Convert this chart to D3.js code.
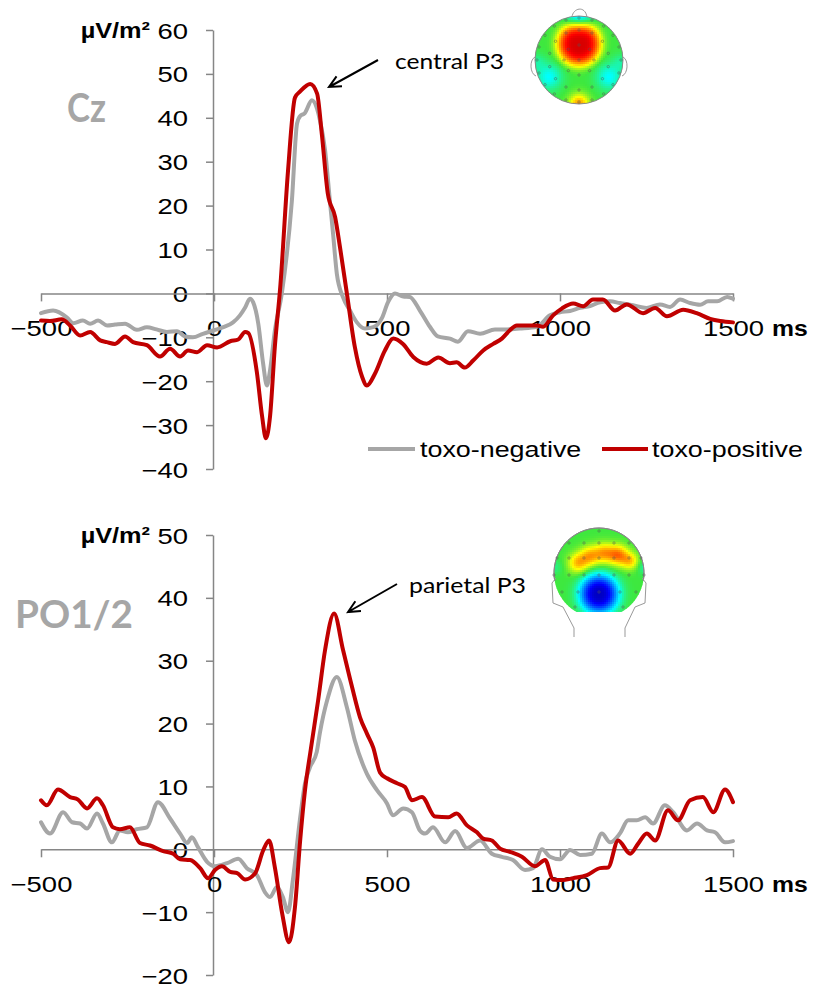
<!DOCTYPE html>
<html><head><meta charset="utf-8">
<script src="https://cdn.jsdelivr.net/npm/d3@7"></script>
<style>body{margin:0;background:#fff}svg{display:block}</style>
</head><body>
<svg id="c" width="813" height="987"></svg>
<script>
// ---------- data ----------
const xTicks = [-500, 0, 500, 1000, 1500];
const czTicks = [-40, -30, -20, -10, 0, 10, 20, 30, 40, 50, 60];
const poTicks = [-20, -10, 0, 10, 20, 30, 40, 50];
const seriesNames = ["toxo-negative", "toxo-positive"];
const seriesColors = ["#A6A6A6", "#C00000"];
const panelLabels = ["Cz", "PO1/2"];
const peakLabels = ["central P3", "parietal P3"];

// Cz, toxo-negative  [ms, µV/m²]
const czNeg = [[-500,-4.5],[-465,-3.9],[-425,-5.5],[-407,-6.8],[-379,-6.2],[-358,-6.9],[-335,-6.2],[-309,-7.3],[-286,-7.1],[-257,-6.9],[-223,-8.3],[-194,-7.7],[-166,-8.2],[-136,-8.8],[-107,-8.6],[-84,-9.8],[-61,-10],[-32,-9.2],[0,-8.4],[27,-7.7],[55,-6.6],[75,-5.0],[90,-3.2],[104,-1.2],[113,-2],[128,-6.9],[142,-16],[153,-21],[162,-17.5],[176,-8.4],[196,0],[225,21],[240,38.7],[250,40.5],[262,41],[283,44],[298,42],[306,39.5],[321,32.6],[335,21],[344,13.7],[355,4.5],[373,-0.9],[393,-3.9],[413,-6.6],[436,-8],[460,-7.7],[486,-5.5],[503,-2],[523,0],[547,-0.7],[566,-0.8],[595,-3.9],[624,-7.6],[647,-9.8],[682,-10.3],[705,-11],[734,-8.6],[769,-9.2],[812,-8.2],[847,-8.2],[884,-8],[933,-7.6],[971,-5],[1000,-4.3],[1029,-4],[1058,-3.3],[1087,-2.9],[1116,-2],[1145,-1.8],[1173,-2.2],[1211,-2.7],[1250,-3.3],[1289,-2.5],[1318,-3.1],[1347,-1.4],[1376,-2.2],[1405,-2.6],[1428,-1.8],[1454,-1.8],[1483,-0.8],[1500,-1.2]];
// Cz, toxo-positive
const czPos = [[-500,-6.2],[-474,-6.3],[-440,-5.9],[-416,-7.3],[-387,-9.6],[-358,-8.8],[-329,-10.7],[-310,-11.1],[-286,-11.5],[-257,-9.8],[-234,-11.1],[-194,-11.8],[-156,-14.4],[-127,-12.6],[-98,-14.4],[-75,-13],[-49,-13.4],[-20,-11.8],[9,-12.3],[47,-10.9],[70,-10.5],[90,-8.8],[99,-9],[124,-18],[139,-28],[150,-33],[162,-28],[176,-12],[192,2],[214,28],[234,44.6],[249,46],[278,47.7],[298,45.5],[312,36],[329,22.7],[350,17.4],[364,10.6],[384,0],[407,-12.2],[428,-19],[442,-21],[465,-18.3],[494,-13],[518,-10.3],[547,-11.6],[576,-14.5],[615,-16],[648,-14.6],[682,-15.9],[701,-15.7],[725,-16.9],[749,-15.3],[778,-13],[807,-11.5],[832,-10.3],[855,-8.4],[875,-7.3],[904,-7.3],[933,-7.3],[951,-7.6],[980,-5],[1006,-3.4],[1038,-2.3],[1067,-2.9],[1095,-1.4],[1124,-1.4],[1159,-3.9],[1193,-2.5],[1240,-4.5],[1275,-3.3],[1309,-5.2],[1356,-3.7],[1395,-4.5],[1434,-5.8],[1463,-6.3],[1500,-6.6]];
// PO1/2, toxo-negative
const poNeg = [[-500,4.3],[-474,2.5],[-436,5.9],[-410,4.3],[-387,4.1],[-367,3.3],[-338,5.7],[-321,4.1],[-295,1.1],[-272,3],[-249,2.7],[-223,3.2],[-194,3.5],[-162,7.5],[-127,4.9],[-98,2.5],[-78,1],[-64,1.9],[-46,0.3],[-20,-2],[3,-2.7],[38,-2.2],[70,-1.5],[95,-3],[124,-4.1],[147,-6.8],[162,-7.6],[182,-6],[199,-7.6],[214,-10],[228,-4.9],[249,5],[263,10.5],[277,13],[297,15.5],[306,18.5],[327,23.7],[355,27.4],[384,22.6],[407,17.3],[442,12],[471,9.4],[500,7.3],[517,5.4],[547,6.5],[572,5.9],[595,3],[610,2.5],[633,3.5],[668,1.1],[697,2.9],[731,0.2],[769,1.4],[803,-0.7],[832,-1.2],[864,-1.7],[899,-3.3],[922,-3],[948,0],[971,-1.2],[1000,-1.6],[1029,-0.1],[1058,-0.9],[1092,-0.7],[1121,2.5],[1145,1.1],[1173,2.5],[1197,4.6],[1222,4.6],[1246,5.1],[1269,4.1],[1303,7],[1327,5.9],[1367,3],[1396,4.1],[1425,3],[1448,2.7],[1477,1.1],[1500,1.3]];
// PO1/2, toxo-positive
const poPos = [[-500,7.8],[-483,7],[-451,9.5],[-416,8.3],[-393,7.9],[-367,6.5],[-338,8.1],[-321,7],[-292,3.5],[-272,3.2],[-243,3.5],[-214,1],[-185,0.6],[-147,-0.3],[-118,-0.7],[-98,-1.6],[-69,-1.7],[-40,-3],[-17,-4.6],[3,-3.3],[23,-2.7],[47,-3.6],[67,-3.8],[90,-4.8],[119,-3.8],[142,-0.2],[159,1.4],[176,-2.9],[197,-10.2],[217,-14.8],[234,-9.2],[249,1.4],[263,9.4],[280,16],[301,23.7],[321,31.7],[347,37.5],[373,31.7],[399,25.8],[422,21],[442,18.4],[460,16.2],[480,12.2],[500,11.3],[529,10.5],[552,9.9],[572,7.8],[601,8.3],[639,5.2],[677,5.1],[701,5.7],[731,3.8],[760,2.7],[778,1.7],[803,1.4],[827,0.1],[855,-0.4],[890,-1.2],[928,-2.7],[957,-1.7],[980,-4.8],[1006,-4.9],[1038,-4.6],[1078,-4.1],[1116,-3],[1139,-2.9],[1168,1.4],[1203,-0.7],[1226,0.9],[1251,2.5],[1275,1.4],[1312,6.2],[1341,4.6],[1376,7.8],[1413,8.3],[1443,5.9],[1477,9.5],[1500,7.5]];

// ---------- drawing ----------
const FONT = "'Liberation Sans', Arial, sans-serif";
const SX = 1.22;      // horizontal stretch of the original lettering
const AXC = "#868686";
const svg = d3.select("#c");
const defs = svg.append("defs");
const x = d3.scaleLinear().domain([-500, 1500]).range([41, 733]);

function panel(cfg) {
  const y = d3.scaleLinear().domain(cfg.domain).range(cfg.range);
  const g = svg.append("g");
  const gy = g.append("g").attr("transform", "translate(213,0)")
    .call(d3.axisLeft(y).tickValues(cfg.ticks).tickSize(7).tickSizeOuter(0).tickFormat(d3.format("d")));
  const gx = g.append("g").attr("transform", `translate(0,${y(0)})`)
    .call(d3.axisBottom(x).tickValues(xTicks).tickSize(8).tickSizeOuter(0).tickFormat(d3.format("d")));
  [gy, gx].forEach(a => {
    a.attr("font-family", FONT).attr("font-size", 22.5);
    a.selectAll("path,line").attr("stroke", AXC).attr("stroke-width", 1.5);
    a.selectAll("text").attr("fill", "#000");
  });
  gy.selectAll(".tick text").attr("x", null).attr("dy", null)
    .attr("transform", `translate(-25,8) scale(${SX},1)`);
  gx.selectAll(".tick text").attr("y", null).attr("dy", null)
    .attr("transform", `translate(0,43) scale(${SX},1)`);

  g.append("text").attr("font-family", FONT).attr("font-size", 22).attr("font-weight", "bold")
    .attr("text-anchor", "end").attr("transform", `translate(150,${y(cfg.domain[1]) + 8}) scale(1.15,1)`)
    .text("µV/m²");
  g.append("text").attr("font-family", FONT).attr("font-size", 22.5).attr("font-weight", "bold")
    .attr("transform", `translate(772,${y(0) + 43}) scale(1.1,1)`).text("ms");

  g.append("text").attr("font-family", "Lato, 'Open Sans', sans-serif").attr("font-weight", "bold")
    .attr("font-size", cfg.labelSize).attr("fill", "#A6A6A6")
    .attr("x", cfg.labelX).attr("y", cfg.labelY)
    .attr("textLength", cfg.labelW).attr("lengthAdjust", "spacingAndGlyphs")
    .text(cfg.label);

  const line = d3.line().x(d => x(d[0])).y(d => y(d[1])).curve(d3.curveMonotoneX);
  cfg.series.forEach((s, i) => {
    g.append("path").datum(s).attr("d", line).attr("fill", "none")
      .attr("stroke", seriesColors[i]).attr("stroke-width", 4)
      .attr("stroke-linejoin", "round").attr("stroke-linecap", "round");
  });

  const a = cfg.arrow;
  const ang = Math.atan2(a[3] - a[1], a[2] - a[0]);
  const hl = 13, ha = 0.45;
  g.append("path").attr("fill", "none").attr("stroke", "#000").attr("stroke-width", 2)
    .attr("d", `M${a[0]},${a[1]}L${a[2]},${a[3]}` +
      `M${a[2] - hl * Math.cos(ang - ha)},${a[3] - hl * Math.sin(ang - ha)}L${a[2]},${a[3]}` +
      `L${a[2] - hl * Math.cos(ang + ha)},${a[3] - hl * Math.sin(ang + ha)}`);
  g.append("text").attr("font-family", "Lato, 'Open Sans', sans-serif").attr("font-size", 22)
    .attr("x", cfg.annX).attr("y", cfg.annY).attr("textLength", cfg.annW)
    .attr("lengthAdjust", "spacingAndGlyphs").attr("fill", "#000").text(cfg.ann);
  return y;
}

panel({
  domain: [-40, 60], range: [469, 30], ticks: czTicks, series: [czNeg, czPos],
  label: panelLabels[0], labelX: 67, labelY: 122, labelSize: 40, labelW: 39,
  arrow: [378, 60, 329, 87], ann: peakLabels[0], annX: 395, annY: 69, annW: 109
});
panel({
  domain: [-20, 50], range: [975, 535], ticks: poTicks, series: [poNeg, poPos],
  label: panelLabels[1], labelX: 15, labelY: 628, labelSize: 38, labelW: 118,
  arrow: [397, 584, 348, 612], ann: peakLabels[1], annX: 409, annY: 593, annW: 117
});

// legend
const leg = svg.append("g");
[[368, 415, 420], [602, 648, 652]].forEach((p, i) => {
  leg.append("line").attr("x1", p[0]).attr("x2", p[1]).attr("y1", 449).attr("y2", 449)
    .attr("stroke", seriesColors[i]).attr("stroke-width", 4);
  leg.append("text").attr("font-family", FONT).attr("font-size", 21.5)
    .attr("transform", `translate(${p[2]},457) scale(1.25,1)`).text(seriesNames[i]);
});

// ---------- scalp maps ----------
const jet = d3.scaleLinear()
  .domain([0, 0.11, 0.36, 0.5, 0.64, 0.89, 1])
  .range(["#000090", "#0000ff", "#00ffff", "#3ee83e", "#ffff00", "#ff0000", "#900000"])
  .clamp(true);

function topo(id, cx, cy, r, yMax, blobs) {
  const g = svg.append("g");
  const pts = d3.range(0, 361, 4).map(a => {
    const t = a * Math.PI / 180;
    return [cx + r * Math.cos(t), Math.min(cy + r * Math.sin(t), yMax)];
  });
  defs.append("clipPath").attr("id", id).append("path").attr("d", "M" + pts.join("L") + "Z");
  const cells = g.append("g").attr("clip-path", `url(#${id})`);
  const st = 2;
  for (let px = cx - r; px < cx + r; px += st) {
    for (let py = cy - r; py < cy + r; py += st) {
      const mx = px + st / 2, my = py + st / 2;
      let v = 0.5;
      blobs.forEach(b => {
        const d2 = ((mx - b[0]) ** 2 + (my - b[1]) ** 2) / (2 * b[3] * b[3]);
        v += b[2] * Math.exp(-Math.pow(d2, b[4] || 1));
      });
      cells.append("rect").attr("x", px).attr("y", py).attr("width", st + 0.3).attr("height", st + 0.3)
        .attr("fill", jet(v));
    }
  }
  return g;
}

const t1 = topo("clipA", 579, 60, 44, 200, [
  [579, 44, 0.43, 15.5, 2],
  [549, 77, -0.14, 9], [609, 77, -0.14, 9],
  [537, 62, -0.06, 6], [621, 62, -0.06, 6],
  [579, 15, -0.2, 9],
  [579, 104, 0.24, 7]
]);
t1.append("circle").attr("cx", 579).attr("cy", 60).attr("r", 44).attr("fill", "none").attr("stroke", "#888").attr("stroke-width", 1);
t1.append("path").attr("fill", "none").attr("stroke", "#999").attr("stroke-width", 1)
  .attr("d", "M572,17 C573,8 585,5 587,17 M535,57 C529,60 530,74 536,76 M623,57 C629,60 628,74 622,76");
[[0, 1], [15, 8], [30, 14], [42, 20]].forEach(([rr, n]) => {
  for (let k = 0; k < n; k++) {
    const a = 2 * Math.PI * k / n - Math.PI / 2;
    t1.append("circle").attr("cx", 579 + rr * Math.cos(a)).attr("cy", 60 + rr * Math.sin(a)).attr("r", 1.2)
      .attr("fill", "none").attr("stroke", "#555").attr("stroke-width", 0.6).attr("opacity", 0.8);
  }
});

const t2 = topo("clipB", 599, 573, 45, 612, [
  [578, 563, 0.2, 7], [590, 556, 0.2, 7], [604, 553, 0.2, 7], [618, 555, 0.26, 7], [630, 561, 0.18, 6],
  [599, 594, -0.45, 14, 1.4],
  [645, 567, -0.08, 5], [555, 567, -0.05, 5]
]);
t2.append("path").attr("fill", "none").attr("stroke", "#888").attr("stroke-width", 1)
  .attr("d", d3.arc()({innerRadius: 45, outerRadius: 45, startAngle: -1.75, endAngle: 1.75}))
  .attr("transform", "translate(599,573)");
t2.append("path").attr("fill", "none").attr("stroke", "#999").attr("stroke-width", 1)
  .attr("d", "M556,578 L552,583 L553,603 L563,607 L574,628 L574,637 M642,578 L646,583 L645,603 L635,607 L625,628 L625,637");
[[531, [599]], [543, [569, 584, 599, 614, 629]], [558, [557, 569, 584, 599, 614, 629, 641]],
 [575, [554, 569, 584, 599, 614, 629, 644]], [592, [562, 578, 599, 620, 636]], [607, [575, 623]]]
  .forEach(([yy, xs]) => xs.forEach(xx => {
    t2.append("circle").attr("cx", xx).attr("cy", yy).attr("r", 1.2)
      .attr("fill", "none").attr("stroke", "#555").attr("stroke-width", 0.6).attr("opacity", 0.8);
  }));
</script>
</body></html>
